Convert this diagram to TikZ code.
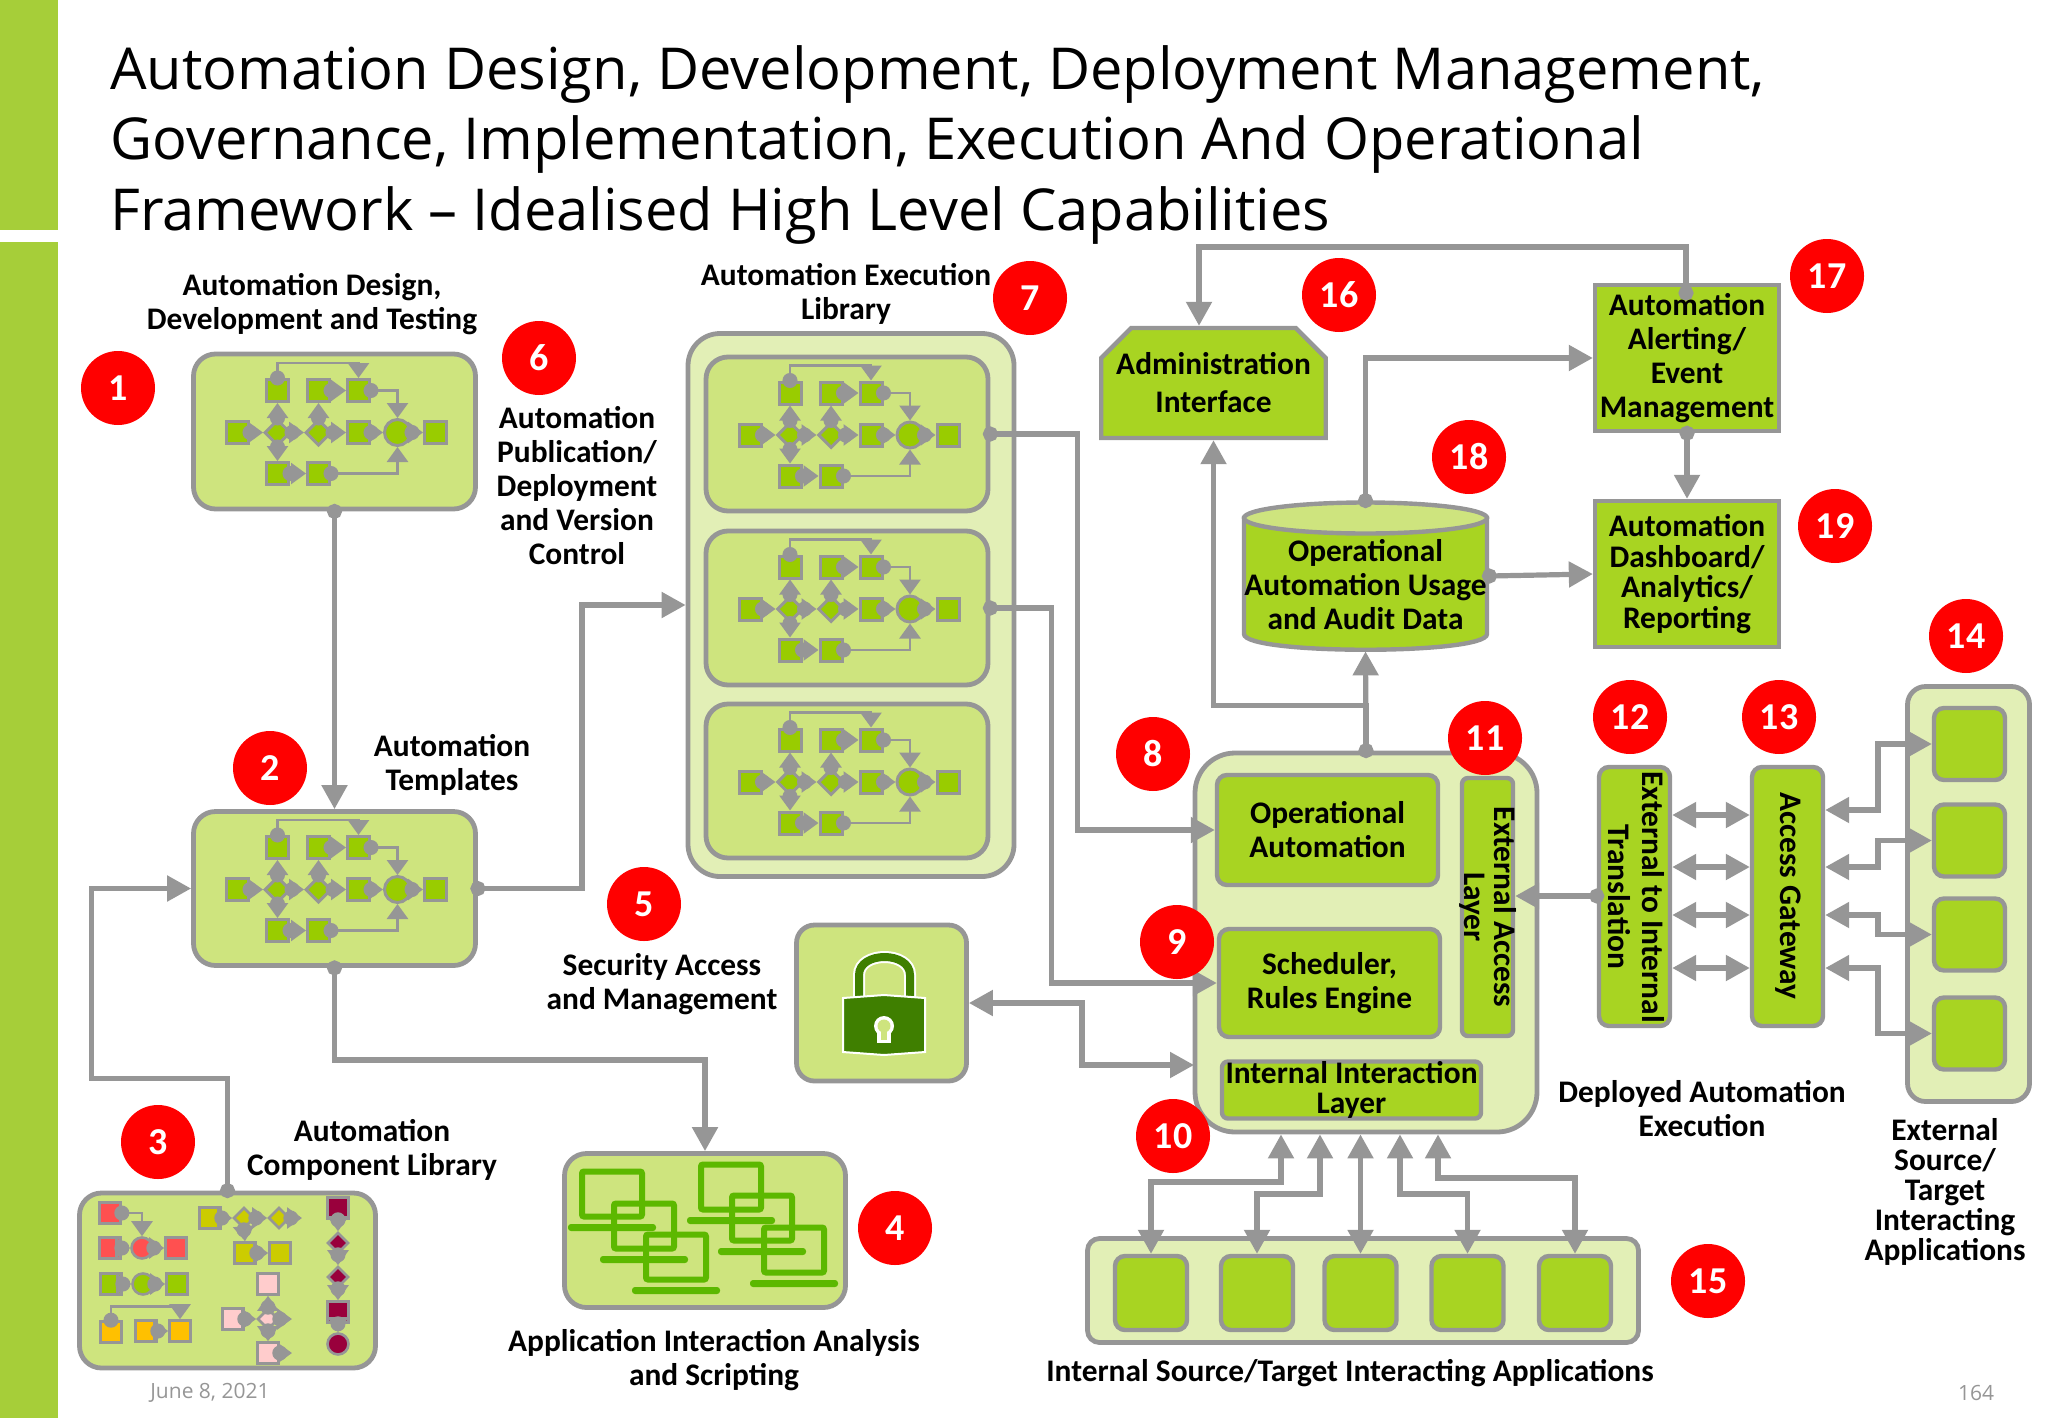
\documentclass[tikz,border=0pt]{standalone}
\usepackage{fontspec}
\setmainfont{Carlito}
\newfontfamily\titlefont{Open Sans}
\usetikzlibrary{arrows.meta, shapes.geometric, shapes.misc}

\definecolor{linegray}{HTML}{969696}
\definecolor{bargreen}{HTML}{A6CE39}
\definecolor{panelgreen}{HTML}{CEE47E}
\definecolor{palegreen}{HTML}{E2EFB6}
\definecolor{boxgreen}{HTML}{A8D422}
\definecolor{flowgreen}{HTML}{99CC00}
\definecolor{laptopgreen}{HTML}{5CB800}
\definecolor{lockgreen}{HTML}{3F7F00}
\definecolor{compred}{HTML}{FF5050}
\definecolor{compolive}{HTML}{CCCC00}
\definecolor{compamber}{HTML}{FFC000}
\definecolor{comppink}{HTML}{FFCCCC}
\definecolor{compmaroon}{HTML}{99003C}

\tikzset{
  panel/.style={rectangle, draw=linegray, line width=2.4pt, fill=panelgreen, rounded corners=11pt},
  palepanel/.style={panel, fill=palegreen},
  box/.style={rectangle, draw=linegray, line width=2.2pt, fill=boxgreen, rounded corners=5pt,
    inner sep=0pt, align=center, lbl},
  lbl/.style={font=\fontsize{15.7}{17}\selectfont\bfseries, align=center, inner sep=0pt},
  tightlbl/.style={font=\fontsize{15.7}{15}\selectfont\bfseries},
  badge/.style={circle, fill=red, text=white, minimum size=37pt, inner sep=0pt,
    font=\fontsize{19}{19}\selectfont\bfseries},
  footer/.style={text=linegray, inner sep=0pt, font=\titlefont\fontsize{10.5}{12}\selectfont},
  flowsq/.style={rectangle, draw=linegray, line width=1.5pt, fill=flowgreen, minimum size=11pt, inner sep=0pt},
  flowdia/.style={diamond, draw=linegray, line width=1.5pt, fill=flowgreen, minimum size=13pt, inner sep=0pt},
  flowcirc/.style={circle, draw=linegray, line width=1.5pt, fill=flowgreen, minimum size=13pt, inner sep=0pt},
  flowlink/.style={linegray, line width=1.4pt, shorten <=-3.75pt,
    {Circle[length=7.5pt]}-{Triangle[length=7.5pt,width=10.5pt]}},
  dotlink/.style={linegray, line width=2.6pt, shorten <=-3.75pt, {Circle[length=7.5pt]}->},
  link/.style={linegray, line width=2.6pt},
  pics/miniflow/.style={code={
    \node[flowsq] (a) at (-97,1) {};
    \node[flowdia] (b) at (-57,1) {};
    \node[flowsq] (c) at (-57,-41) {};
    \node[flowsq] (d) at (-57,42) {};
    \node[flowsq] (e) at (-16,42) {};
    \node[flowdia] (f) at (-16,1) {};
    \node[flowsq] (g) at (-16,-41) {};
    \node[flowsq] (h) at (24,-41) {};
    \node[flowsq] (i) at (24,1) {};
    \node[flowcirc] (j) at (63,1) {};
    \node[flowsq] (k) at (101,1) {};
    \path[flowlink] (a.east) edge (b.west)
        (b.north) edge (c.south)
        (b.south) edge (d.north)
        (b.east) edge (f.west)
        (d.east) edge (e.west)
        (f.north) edge (g.south)
        (f.east) edge (i.west)
        (g.east) edge (h.west)
        (i.east) edge (j.west)
        (j.east) edge (k.west);
    \draw[flowlink] (c.north) -- ++(0,-15) -| (h.north);
    \draw[flowlink] (h.east) -| (j.north);
    \draw[flowlink] (e.east) -| (j.south);
  }},
  pics/laptop/.style={code={
    \draw[laptopgreen, line width=3pt, rounded corners=1pt] (-30,-22.5) rectangle (30,22.5);
    \fill[laptopgreen, rounded corners=1.5pt] (-44,30) rectangle (44,37);
  }}
}

\begin{document}
\begin{tikzpicture}[x=.5pt,y=-.5pt,>={Triangle[length=12pt,width=12.5pt]}]
\useasboundingbox (0,0) rectangle (2048,1418);

% define the margin and the title
  \fill[bargreen] (0,0) rectangle (58,230);
  \fill[bargreen] (0,242) rectangle (58,1418);
  \node[anchor=north west, inner sep=0pt, align=left, font=\titlefont\fontsize{28.9}{35.3}\selectfont] (title) at (110,45)
{Automation Design, Development, Deployment Management,\\Governance, Implementation, Execution And Operational\\Framework – Idealised High Level Capabilities};

% define the design side
  \node[panel, minimum width=141pt, minimum height=77.5pt] (design) at (334.5,431.5) {};
  \node[panel, minimum width=141pt, minimum height=77pt] (templates) at (334.5,888.5) {};
  \node[panel, minimum width=148pt, minimum height=87.5pt] (components) at (227.5,1280.5) {};
  \node[panel, minimum width=140.5pt, minimum height=77pt] (apps) at (705,1230.5) {};
  \node[panel, minimum width=85pt, minimum height=78pt, rounded corners=9pt] (lockbox) at (881.5,1003) {};
  \node[palepanel, minimum width=163pt, minimum height=271.5pt, rounded corners=16pt] (library) at (851,605) {};
  \foreach \name/\y in {lib1/434, lib2/608, lib3/781}
    \node[panel, minimum width=141pt, minimum height=77pt] (\name) at (847,\y) {};

% define the small flows
  \pic (flowa) at (design) {miniflow};
  \pic (flowb) at (templates) {miniflow};
  \pic (flowc) at (lib1) {miniflow};
  \pic (flowd) at (lib2) {miniflow};
  \pic (flowe) at (lib3) {miniflow};
  \foreach \pos in {{612,1194},{644,1226},{676,1257},{731,1187},{762,1218},{794,1250}}
    \pic at (\pos) {laptop};

% define the component library
  \foreach \name/\pos/\kind/\clr in {
      ra/{110,1213}/flowsq/compred, rb/{110,1248}/flowsq/compred, rc/{142,1248}/flowcirc/compred, rd/{176,1248}/flowsq/compred,
      ga/{111,1284}/flowsq/flowgreen, gb/{143,1284}/flowcirc/flowgreen, gc/{177,1284}/flowsq/flowgreen,
      aa/{111,1332}/flowsq/compamber, ab/{146,1331}/flowsq/compamber, ac/{180,1331}/flowsq/compamber,
      oa/{210,1218}/flowsq/compolive, ob/{244,1218}/flowdia/compolive, oc/{279,1218}/flowdia/compolive,
      od/{245,1253}/flowsq/compolive, oe/{280,1253}/flowsq/compolive,
      pa/{268,1284}/flowsq/comppink, pb/{233,1319}/flowsq/comppink, pc/{268,1319}/flowdia/comppink, pd/{268,1353}/flowsq/comppink,
      ma/{338,1208}/flowsq/compmaroon, mb/{338,1243}/flowdia/compmaroon, mc/{338,1277}/flowdia/compmaroon,
      md/{338,1312}/flowsq/compmaroon, me/{338,1344}/flowcirc/compmaroon}
    \node[\kind, fill=\clr, line width=1.3pt, minimum size=10.5pt] (\name) at (\pos) {};
  \coordinate (oend) at (302,1218);
  \coordinate (pcend) at (292,1319);
  \coordinate (pdend) at (292,1353);
  \path[flowlink] (rb.east) edge (rc.west)
        (rc.east) edge (rd.west)
        (ga.east) edge (gb.west)
        (gb.east) edge (gc.west)
        (ab.east) edge (ac.west)
        (oa.east) edge (ob.west)
        (ob.east) edge (oc.west)
        (oc.east) edge (oend)
        (ob.south) edge (od.north)
        (od.east) edge (oe.west)
        (pb.east) edge (pc.west)
        (pc.north) edge (pa.south)
        (pc.east) edge (pcend)
        (pc.south) edge (pd.north)
        (pd.east) edge (pdend)
        (ma.south) edge (mb.north)
        (mb.south) edge (mc.north)
        (mc.south) edge (md.north)
        (md.south) edge (me.north);
  \draw[flowlink] (ra.east) -| (rc.north);
  \draw[flowlink] (aa.north) -- ++(0,-14) -| (ac.north);

% define the lock
  \draw[white, line width=6pt] (859,998) -- (859,975) .. controls (859,951) and (910,951) .. (910,975) -- (910,998);
  \draw[lockgreen, line width=4pt] (859,998) -- (859,975) .. controls (859,951) and (910,951) .. (910,975) -- (910,998);
  \draw[white, fill=lockgreen, line width=1pt] (843,998) -- (884,995) -- (925,998) -- (925,1052) -- (884,1055) -- (843,1052) -- cycle;
  \fill[white] (884,1026) circle[radius=10];
  \fill[white] (877,1028) rectangle (891,1043);
  \fill[panelgreen] (884,1026) circle[radius=6.5];
  \fill[panelgreen] (881,1028) rectangle (887,1040);

% define the deployed part
  \node[palepanel, minimum width=171pt, minimum height=189.5pt, rounded corners=20pt] (main) at (1366,942.5) {};
  \node[box, minimum width=110.5pt, minimum height=55pt] (opauto) at (1327.5,830) {Operational\\Automation};
  \node[box, minimum width=110.5pt, minimum height=54pt] (sched) at (1329.5,983) {Scheduler,\\Rules Engine};
  \node[box, minimum width=25.5pt, minimum height=129pt, rounded corners=3pt] (extlayer) at (1487.5,907) {};
  \node[box, tightlbl, minimum width=129.5pt, minimum height=25pt, rounded corners=3pt] (intlayer) at (1351.5,1090) {Internal Interaction\\Layer};
  \node[box, minimum width=35.5pt, minimum height=129.5pt] (transl) at (1634.5,896.5) {};
  \node[box, minimum width=35.5pt, minimum height=129.5pt] (gate) at (1787.5,896.5) {};
  \node[lbl, tightlbl, rotate=-90] (extlayertext) at (1488,907) {External Access\\Layer};
  \node[lbl, rotate=-90] (transltext) at (1636,897) {External to Internal\\Translation};
  \node[lbl, rotate=-90] (gatetext) at (1788,896) {Access Gateway};
  \node[palepanel, minimum width=61pt, minimum height=207.5pt, rounded corners=9pt] (extpanel) at (1968.5,894) {};
  \foreach \name/\y in {exta/744, extb/840.5, extc/934.5, extd/1033.5}
    \node[box, minimum width=35.5pt, minimum height=36pt] (\name) at (1969.5,\y) {};
  \node[palepanel, minimum width=275.5pt, minimum height=52pt, rounded corners=6pt] (intpanel) at (1363,1290.5) {};
  \foreach \name/\x in {inta/1151, intb/1257, intc/1360.5, intd/1467.5, inte/1575}
    \node[box, minimum width=36pt, minimum height=37pt] (\name) at (\x,1293) {};

% define the data and reporting part
  \node[box, chamfered rectangle, chamfered rectangle corners={north west, north east}, chamfered rectangle sep=7.5pt,
    rounded corners=0pt, font=\fontsize{15.7}{19}\selectfont\bfseries, minimum width=110.5pt, minimum height=55pt] (admin) at (1213.5,383) {Administration\\Interface};
  \node[box, rounded corners=0pt, minimum width=92pt, minimum height=73pt] (alerting) at (1687,358) {Automation\\Alerting/\\Event\\Management};
  \node[box, rounded corners=0pt, minimum width=92pt, minimum height=73pt, font=\fontsize{15.7}{15.3}\selectfont\bfseries] (dashboard) at (1687,574) {Automation\\Dashboard/\\Analytics/\\Reporting};
  \node[rectangle, minimum width=123.5pt, minimum height=75pt] (usage) at (1365.5,576) {};
  \draw[linegray, line width=2.2pt, fill=boxgreen] (1244,518) -- (1244,634) .. controls (1244,655) and (1487,655) .. (1487,634) -- (1487,518) -- cycle;
  \draw[linegray, line width=2.2pt, fill=panelgreen] (1365.5,518) ellipse[x radius=121.5,y radius=15.5];
  \node[lbl] (usagetext) at (1365.5,585) {Operational\\Automation Usage\\and Audit Data};

% define the links
  \path[dotlink] (design.south) edge (templates.north)
        (alerting.south) edge (dashboard.north)
        (usage.east) edge (dashboard.west);
  \draw[dotlink] (templates.east) -- ++(104,0) |- (library.west);
  \draw[dotlink] (templates.south) -- ++(0,92) -| (apps.north);
  \draw[dotlink] (components.north) -- ++(0,-112) -- ++(-136,0) |- (templates.west);
  \draw[dotlink] (lib1.east) -- ++(87,0) |- (opauto.west);
  \draw[dotlink] (lib2.east) -- ++(61,0) |- (sched.west);
  \coordinate (lockin) at (1194,1065);
  \draw[link, <->] (lockbox.east) -- ++(113,0) |- (lockin);
  \draw[dotlink] (main.north) -- (usage.south);
  \draw[link, ->] (main.north) -- ++(0,-45) -| (admin.south);
  \draw[dotlink] (usage.north) |- (alerting.west);
  \coordinate (alerttop) at (1686,293);
  \draw[dotlink] (alerttop) |- (1199,247) -- (admin.north -| 1199,0);
  \draw[dotlink] (transl.west |- 0,896) -- (extlayer.east |- 0,896);
  \foreach \y in {815, 867, 915, 968}
    \draw[link, <->] (transl.east |- 0,\y) -- (gate.west |- 0,\y);
  \foreach \y/\name in {810/exta, 867/extb, 915/extc, 968/extd}
    \draw[link, <->] (gate.east |- 0,\y) -- (1878,\y) |- (\name.west);
  \foreach \x/\y/\name in {1281/1182/inta, 1320/1194/intb, 1400/1194/intd, 1438/1178/inte}
    \draw[link, <->] (\name.north) |- (\x,\y) -- (\x,0 |- main.south);
  \draw[link, <->] (intc.north) -- (intc.north |- main.south);

% define the labels
  \node[lbl] (designlbl) at (312,304) {Automation Design,\\Development and Testing};
  \node[lbl] (publishlbl) at (577,486) {Automation\\Publication/\\Deployment\\and Version\\Control};
  \node[lbl] (librarylbl) at (846,294) {Automation Execution\\Library};
  \node[lbl] (templatelbl) at (452,765) {Automation\\Templates};
  \node[lbl] (securitylbl) at (662,984) {Security Access\\and Management};
  \node[lbl] (componentlbl) at (372,1150) {Automation\\Component Library};
  \node[lbl] (appslbl) at (714,1360) {Application Interaction Analysis\\and Scripting};
  \node[lbl] (internallbl) at (1350,1373) {Internal Source/Target Interacting Applications};
  \node[lbl] (deployedlbl) at (1702,1109) {Deployed Automation\\Execution};
  \node[lbl, tightlbl] (externallbl) at (1945,1192) {External\\Source/\\Target\\Interacting\\Applications};
  \node[footer] (datelbl) at (210,1393) {June 8, 2021};
  \node[footer] (pagelbl) at (1976,1393) {164};

% define the numbers
  \foreach \n/\pos in {1/{118,388}, 2/{270,768}, 3/{158,1142}, 4/{895,1228}, 5/{644,904}, 6/{539,358},
      7/{1030,298}, 8/{1153,754}, 9/{1177,942}, 10/{1173,1136}, 11/{1485,738}, 12/{1630,717},
      13/{1779,717}, 14/{1966,636}, 15/{1708,1281}, 16/{1339,295}, 17/{1827,276}, 18/{1469,457}, 19/{1835,526}}
    \node[badge] (num\n) at (\pos) {\n};
\end{tikzpicture}
\end{document}
